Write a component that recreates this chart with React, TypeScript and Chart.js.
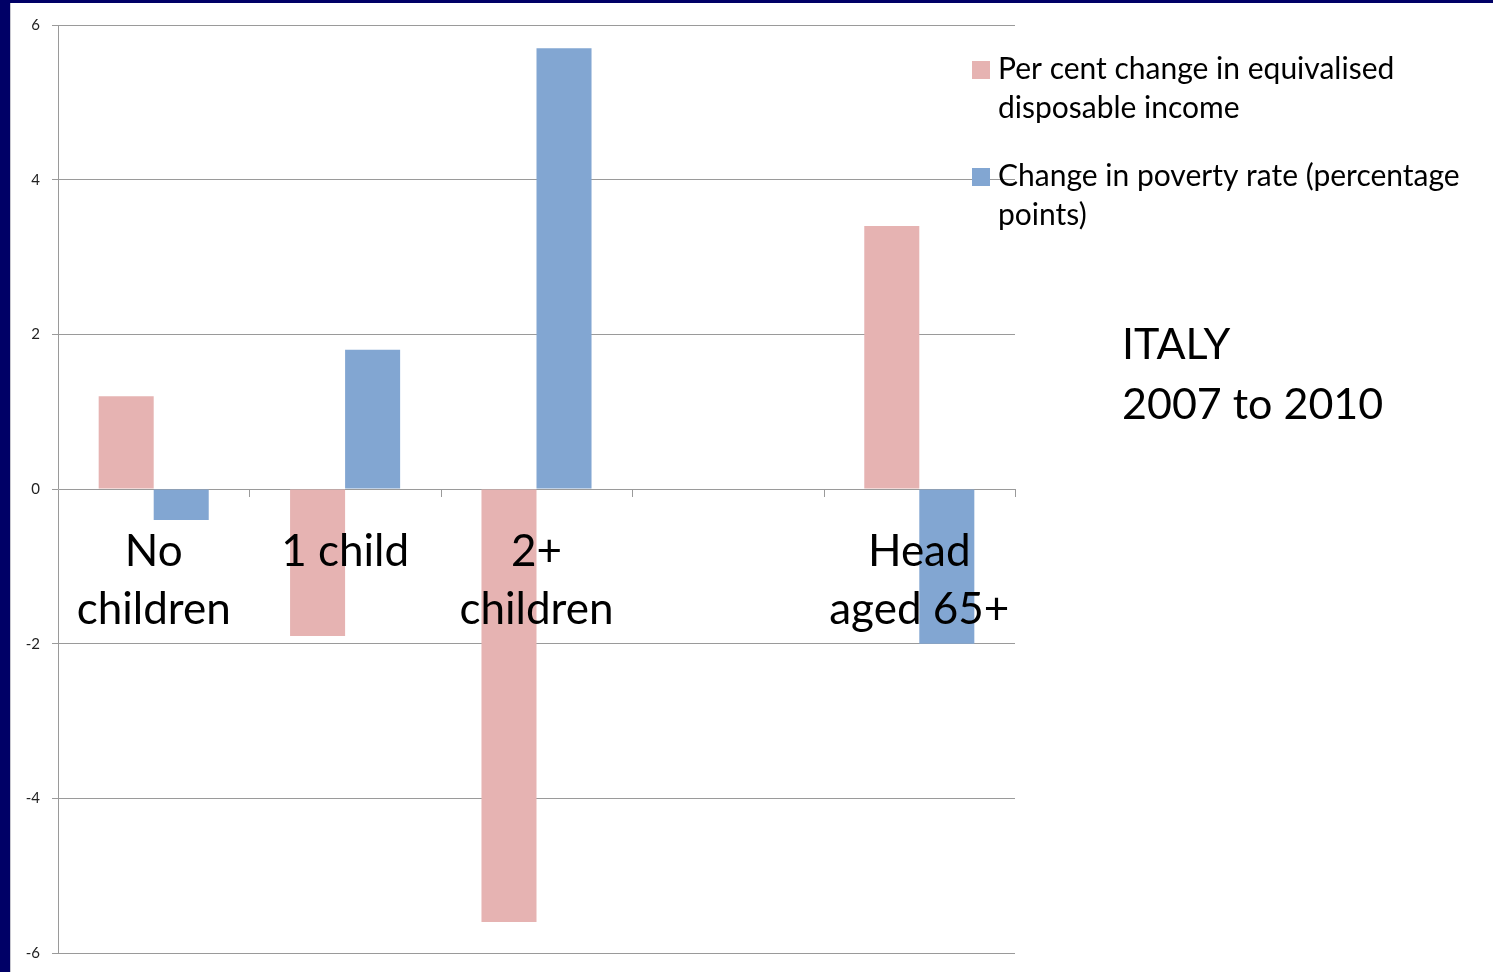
import React, { useEffect, useRef } from "react";
import { Chart, registerables } from "chart.js";

Chart.register(...registerables);

const categories = ["No children", "1 child", "2+ children", "", "Head aged 65+"];
const categoryLines = [["No", "children"], ["1 child"], ["2+", "children"], [], ["Head", "aged 65+"]];
const incomeChange = [1.2, -1.9, -5.6, null, 3.4];
const povertyChange = [-0.4, 1.8, 5.7, null, -2.0];
const seriesNames = [
  ["Per cent change in equivalised", "disposable income"],
  ["Change in poverty rate (percentage", "points)"],
];
const titleLines = ["ITALY", "2007 to 2010"];
const yMin = -6;
const yMax = 6;
const yStep = 2;

const PINK = "#E6B3B2";
const BLUE = "#82A6D2";
const GRID = "#9A9A9A";
const NAVY = "#000066";
const FONT = "Lato, 'Open Sans', sans-serif";

const overlayPlugin = {
  id: "overlay",
  afterDatasetsDraw(chart: any) {
    const { ctx, chartArea } = chart;
    const x = chart.scales.x;
    const y = chart.scales.y;
    const y0 = y.getPixelForValue(0);
    ctx.save();
    ctx.strokeStyle = GRID;
    ctx.lineWidth = 1;
    for (let k = 0; k < categories.length; k++) {
      const px = Math.round(x.getPixelForValue(k + 0.5)) + 0.5;
      ctx.beginPath();
      ctx.moveTo(px, Math.round(y0));
      ctx.lineTo(px, Math.round(y0) + 8);
      ctx.stroke();
    }
    ctx.fillStyle = "#000";
    ctx.font = `44px ${FONT}`;
    ctx.textAlign = "center";
    ctx.textBaseline = "middle";
    categoryLines.forEach((lines, i) => {
      const cx = x.getPixelForValue(i);
      lines.forEach((t, j) => ctx.fillText(t, cx, y0 + 63 + j * 58));
    });
    // legend
    const colors = [PINK, BLUE];
    ctx.font = `30px ${FONT}`;
    ctx.textAlign = "left";
    seriesNames.forEach((lines, i) => {
      const top = chartArea.top + 44 + i * 107;
      ctx.fillStyle = colors[i];
      ctx.fillRect(chartArea.right - 43, top - 8, 18, 18);
      ctx.fillStyle = "#000";
      lines.forEach((t, j) => ctx.fillText(t, chartArea.right - 17, top + j * 39));
    });
    // title
    ctx.font = `43px ${FONT}`;
    titleLines.forEach((t, j) => ctx.fillText(t, chartArea.right + 107, chartArea.top + 320 + j * 60));
    ctx.restore();
  },
};

export default function App() {
  const ref = useRef<HTMLCanvasElement | null>(null);
  useEffect(() => {
    document.body.style.margin = "0";
    document.body.style.background = NAVY;
    document.body.style.overflow = "hidden";
    if (!ref.current) return;
    const chart = new Chart(ref.current, {
      type: "bar",
      data: {
        labels: categories,
        datasets: [
          { label: seriesNames[0].join(" "), data: incomeChange as any, backgroundColor: PINK, categoryPercentage: 0.575, barPercentage: 1 },
          { label: seriesNames[1].join(" "), data: povertyChange as any, backgroundColor: BLUE, categoryPercentage: 0.575, barPercentage: 1 },
        ],
      },
      options: {
        responsive: false,
        animation: false,
        layout: { padding: { left: 0, top: 25, right: 478, bottom: 19 } },
        plugins: { legend: { display: false }, tooltip: { enabled: false } },
        scales: {
          x: { display: false, offset: true },
          y: {
            min: yMin,
            max: yMax,
            afterFit: (s: any) => { s.width = 58; s.paddingTop = 0; s.paddingBottom = 0; },
            ticks: { stepSize: yStep, color: "#222", font: { family: FONT, size: 15 }, padding: 12 },
            grid: { color: GRID, tickLength: 6, lineWidth: 1 },
            border: { color: GRID, width: 1 },
          },
        },
      },
      plugins: [overlayPlugin],
    });
    return () => chart.destroy();
  }, []);
  return (
    <div style={{ position: "relative", width: 1493, height: 972, background: NAVY, overflow: "hidden" }}>
      <div style={{ position: "absolute", left: 10, top: 3, right: 0, bottom: 0, background: "#fff", borderLeft: "1px solid #c8c8d0" }} />
      <canvas ref={ref} width={1493} height={972} style={{ position: "absolute", left: 0, top: 0 }} />
    </div>
  );
}
